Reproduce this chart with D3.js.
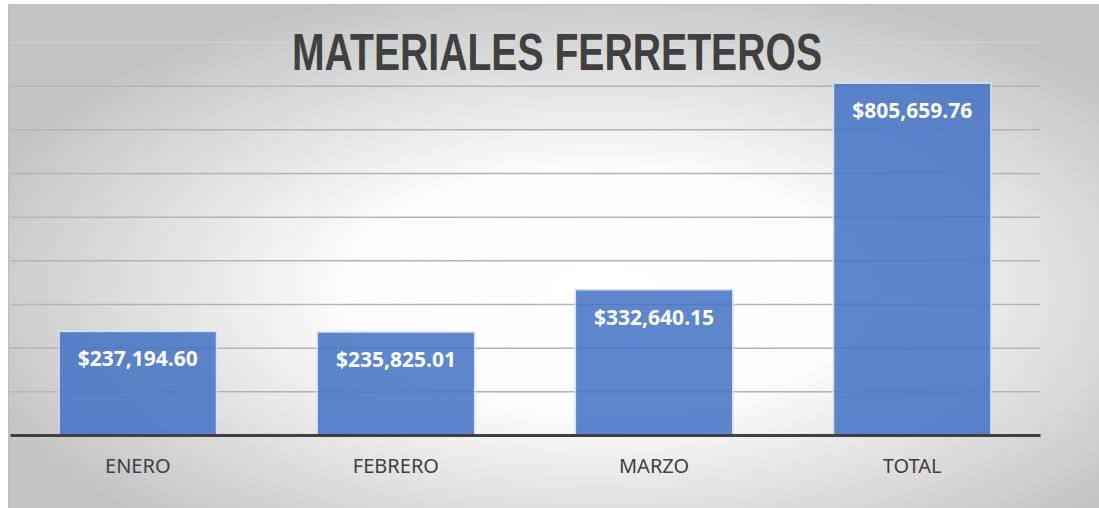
<!DOCTYPE html>
<meta charset="utf-8">
<head>
	<style>
		body {
			margin: 0;
			background: white;
		}
		svg {
			display: block;
		}
	</style>
	<script src="https://cdnjs.cloudflare.com/ajax/libs/d3/7.8.5/d3.min.js"></script>
</head>
<body>
	<svg id="chart"></svg>
</body>
<script>

// chart data
let categories = ["ENERO", "FEBRERO", "MARZO", "TOTAL"]
let values = [237194.60, 235825.01, 332640.15, 805659.76]
let gridTicks = [0, 100000, 200000, 300000, 400000, 500000, 600000, 700000, 800000, 900000]
let title = "MATERIALES FERRETEROS"

function getConfig() {
	let width = 1099
	let height = 508
	let margin = { top: 42, bottom: 73, left: 10, right: 59 }
	let bodyHeight = height - margin.top - margin.bottom
	let bodyWidth = width - margin.left - margin.right
	let container = d3.select("#chart")
		.attr("width", width)
		.attr("height", height)
	return { width, height, margin, bodyHeight, bodyWidth, container }
}

function getScales(config) {
	let { margin, bodyWidth, bodyHeight } = config
	let xScale = d3.scaleBand()
		.domain(categories)
		.range([margin.left, margin.left + bodyWidth])
		.paddingInner(0.39)
		.paddingOuter(0.19)
	let yScale = d3.scaleLinear()
		.domain([0, 900000])
		.range([margin.top + bodyHeight, margin.top])
	return { xScale, yScale }
}

function drawBackground(config) {
	let { container } = config
	let defs = container.append("defs")
	let grad = defs.append("radialGradient")
		.attr("id", "bg")
		.attr("cx", "0.54").attr("cy", "0.55").attr("r", "0.6")
	grad.append("stop").attr("offset", "0%").attr("stop-color", "#ffffff")
	grad.append("stop").attr("offset", "38%").attr("stop-color", "#fdfdfd")
	grad.append("stop").attr("offset", "100%").attr("stop-color", "#c4c4c4")

	container.append("rect")
		.attr("x", 8.5).attr("y", 4.5)
		.attr("width", 1100).attr("height", 520)
		.attr("fill", "url(#bg)")
		.attr("stroke", "#bcbcbc")
		.attr("stroke-width", 1)
}

function drawGrid(scales, config) {
	let { yScale } = scales
	let { container, margin, bodyWidth } = config
	let axisY = d3.axisLeft(yScale)
		.tickValues(gridTicks.slice(1))
		.tickSize(-bodyWidth)
		.tickFormat("")
	let g = container.append("g")
		.attr("transform", `translate(${margin.left},0)`)
		.call(axisY)
	g.select(".domain").remove()
	g.selectAll(".tick line")
		.attr("stroke", d => d === 900000 ? "#d2d2d2" : "#b4b4b4")
		.attr("stroke-width", 1.5)
}

function drawBars(scales, config) {
	let { xScale, yScale } = scales
	let { container } = config
	let data = categories.map((c, i) => ({ cat: c, val: values[i] }))
	let fmt = d3.format("$,.2f")

	container.append("g").selectAll("rect")
		.data(data)
		.enter()
		.append("rect")
		.attr("x", d => xScale(d.cat))
		.attr("y", d => yScale(d.val))
		.attr("width", xScale.bandwidth())
		.attr("height", d => yScale(0) - yScale(d.val))
		.attr("fill", "#4472c4")
		.attr("fill-opacity", 0.86)
		.attr("stroke", "#d6e0f2")
		.attr("stroke-width", 1.5)

	container.append("g").selectAll("text")
		.data(data)
		.enter()
		.append("text")
		.attr("x", d => xScale(d.cat) + xScale.bandwidth() / 2)
		.attr("y", d => yScale(d.val) + 35)
		.attr("text-anchor", "middle")
		.attr("font-family", "'Noto Sans', sans-serif")
		.attr("font-weight", "bold")
		.attr("font-size", "21px")
		.attr("fill", "white")
		.text(d => fmt(d.val))
}

function drawAxis(scales, config) {
	let { xScale, yScale } = scales
	let { container } = config
	let axisX = d3.axisBottom(xScale).tickSize(0).tickPadding(0)
	let g = container.append("g")
		.attr("transform", `translate(0,${yScale(0)})`)
		.call(axisX)
	g.select(".domain")
		.attr("stroke", "#404040")
		.attr("stroke-width", 3)
	g.selectAll("text")
		.attr("y", 38)
		.attr("dy", 0)
		.attr("font-family", "'Noto Sans', sans-serif")
		.attr("font-size", "20px")
		.attr("fill", "#404040")
}

function drawTitle(config) {
	let { container } = config
	container.append("text")
		.attr("x", 557)
		.attr("y", 70)
		.attr("text-anchor", "middle")
		.attr("font-family", "'Liberation Sans', Arial, sans-serif")
		.attr("font-weight", "bold")
		.attr("font-size", "51px")
		.attr("textLength", 530)
		.attr("lengthAdjust", "spacingAndGlyphs")
		.attr("fill", "#404040")
		.text(title)
}

let config = getConfig()
let scales = getScales(config)
drawBackground(config)
drawGrid(scales, config)
drawBars(scales, config)
drawAxis(scales, config)
drawTitle(config)

</script>
